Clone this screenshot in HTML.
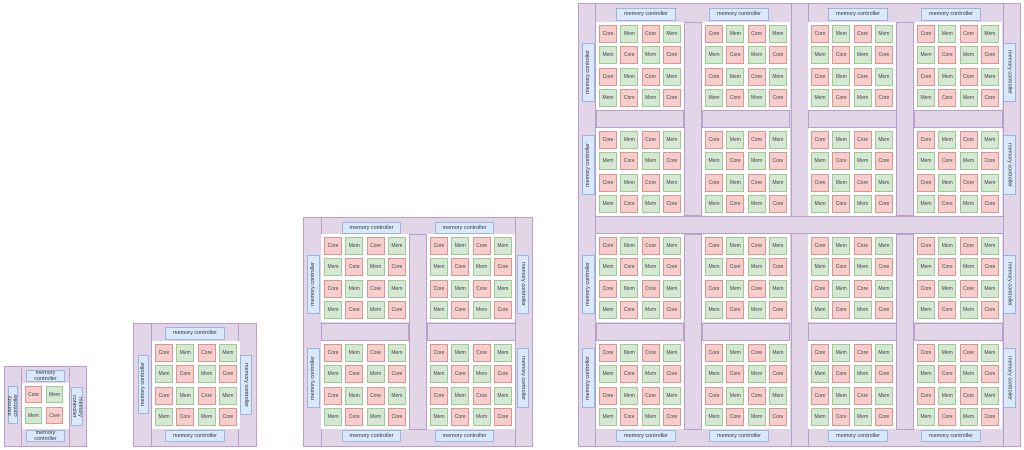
<!DOCTYPE html>
<html><head><meta charset="utf-8"><style>
body{margin:0;width:1024px;height:450px;background:#fff;position:relative;overflow:hidden;font-family:"Liberation Sans",sans-serif}
div{box-sizing:border-box}
.p{position:absolute;background:#e1d5e7;border:1px solid #b9a0c8}
.mc{position:absolute;background:#dae8fc;border:1px solid #9ab6de;font-size:5.5px;color:#333;display:flex;align-items:center;justify-content:center;text-align:center;line-height:1.1}
.l span{writing-mode:vertical-rl;transform:rotate(180deg)}
.r span{writing-mode:vertical-rl}
.w{position:absolute;background:#fff;display:grid;grid-template-columns:repeat(4,18px);grid-auto-rows:18px;gap:3.3px;padding:3px;width:88px;height:88px}
.w b,.w u{text-decoration:none;font-weight:normal;font-size:5px;color:#444;display:flex;align-items:center;justify-content:center;box-sizing:border-box}
.w b{background:#f8cecc;border:1px solid #d99592}
.w u{background:#d5e8d4;border:1px solid #a3c993}
.s{grid-template-columns:repeat(2,17px);grid-auto-rows:17px;gap:4px;width:47px;height:46px;padding:3px}
</style></head><body>

<!-- Diagram 1 -->
<div class="p" style="left:4px;top:366px;width:83px;height:81px"></div>
<div class="p" style="left:21px;top:366px;width:49px;height:81px"></div>
<div class="mc" style="left:26px;top:370px;width:39px;height:12px">memory<br>controller</div>
<div class="mc" style="left:26px;top:430px;width:39px;height:12px">memory<br>controller</div>
<div class="mc l" style="left:8px;top:386px;width:10px;height:38px"><span>memory<br>controller</span></div>
<div class="mc r" style="left:71px;top:387px;width:12px;height:39px"><span>memory<br>controller</span></div>
<div class="w s" style="left:22px;top:383px"><b>Core</b><u>Mem</u><u>Mem</u><b>Core</b></div>

<!-- Diagram 2 -->
<div class="p" style="left:133px;top:323px;width:124px;height:124px"></div>
<div class="p" style="left:151px;top:323px;width:88px;height:124px"></div>
<div class="mc" style="left:165px;top:327px;width:60px;height:13px">memory controller</div>
<div class="mc" style="left:165px;top:430px;width:60px;height:12px">memory controller</div>
<div class="mc l" style="left:138px;top:355px;width:11px;height:59px"><span>memory controller</span></div>
<div class="mc r" style="left:240px;top:355px;width:12px;height:60px"><span>memory controller</span></div>
<div class="w" style="left:152px;top:341px"><b>Core</b><u>Mem</u><b>Core</b><u>Mem</u><u>Mem</u><b>Core</b><u>Mem</u><b>Core</b><b>Core</b><u>Mem</u><b>Core</b><u>Mem</u><u>Mem</u><b>Core</b><u>Mem</u><b>Core</b></div>

<!-- Diagram 3 -->
<div class="p" style="left:303px;top:217px;width:230px;height:230px"></div>
<div class="p" style="left:321px;top:217px;width:195px;height:230px"></div>
<div class="p" style="left:321px;top:323px;width:88px;height:18px"></div>
<div class="p" style="left:427px;top:323px;width:89px;height:18px"></div>
<div class="p" style="left:409px;top:234px;width:18px;height:196px"></div>
<div class="mc" style="left:342px;top:222px;width:59px;height:12px">memory controller</div>
<div class="mc" style="left:435px;top:222px;width:59px;height:12px">memory controller</div>
<div class="mc" style="left:342px;top:430px;width:59px;height:12px">memory controller</div>
<div class="mc" style="left:435px;top:430px;width:59px;height:12px">memory controller</div>
<div class="mc l" style="left:307px;top:255px;width:13px;height:59px"><span>memory controller</span></div>
<div class="mc l" style="left:307px;top:348px;width:13px;height:60px"><span>memory controller</span></div>
<div class="mc r" style="left:517px;top:255px;width:12px;height:59px"><span>memory controller</span></div>
<div class="mc r" style="left:517px;top:348px;width:12px;height:60px"><span>memory controller</span></div>
<div class="w" style="left:321px;top:234px"><b>Core</b><u>Mem</u><b>Core</b><u>Mem</u><u>Mem</u><b>Core</b><u>Mem</u><b>Core</b><b>Core</b><u>Mem</u><b>Core</b><u>Mem</u><u>Mem</u><b>Core</b><u>Mem</u><b>Core</b></div>
<div class="w" style="left:427px;top:234px"><b>Core</b><u>Mem</u><b>Core</b><u>Mem</u><u>Mem</u><b>Core</b><u>Mem</u><b>Core</b><b>Core</b><u>Mem</u><b>Core</b><u>Mem</u><u>Mem</u><b>Core</b><u>Mem</u><b>Core</b></div>
<div class="w" style="left:321px;top:341px"><b>Core</b><u>Mem</u><b>Core</b><u>Mem</u><u>Mem</u><b>Core</b><u>Mem</u><b>Core</b><b>Core</b><u>Mem</u><b>Core</b><u>Mem</u><u>Mem</u><b>Core</b><u>Mem</u><b>Core</b></div>
<div class="w" style="left:427px;top:341px"><b>Core</b><u>Mem</u><b>Core</b><u>Mem</u><u>Mem</u><b>Core</b><u>Mem</u><b>Core</b><b>Core</b><u>Mem</u><b>Core</b><u>Mem</u><u>Mem</u><b>Core</b><u>Mem</u><b>Core</b></div>

<!-- Diagram 4 -->
<div class="p" style="left:578px;top:3px;width:443px;height:444px"></div>
<div class="p" style="left:595px;top:3px;width:409px;height:444px"></div>
<div class="p" style="left:791px;top:3px;width:18px;height:444px"></div>
<div class="p" style="left:595px;top:216px;width:409px;height:18px"></div>
<!-- unit strips -->
<div class="p" style="left:596px;top:110px;width:88px;height:18px"></div>
<div class="p" style="left:702px;top:110px;width:88px;height:18px"></div>
<div class="p" style="left:684px;top:22px;width:18px;height:194px"></div>
<div class="p" style="left:808px;top:110px;width:89px;height:18px"></div>
<div class="p" style="left:914px;top:110px;width:89px;height:18px"></div>
<div class="p" style="left:896px;top:22px;width:18px;height:194px"></div>
<div class="p" style="left:596px;top:323px;width:88px;height:18px"></div>
<div class="p" style="left:702px;top:323px;width:88px;height:18px"></div>
<div class="p" style="left:684px;top:234px;width:18px;height:196px"></div>
<div class="p" style="left:808px;top:323px;width:89px;height:18px"></div>
<div class="p" style="left:914px;top:323px;width:89px;height:18px"></div>
<div class="p" style="left:896px;top:234px;width:18px;height:196px"></div>
<!-- MCs -->
<div class="mc" style="left:616px;top:8px;width:60px;height:13px">memory controller</div>
<div class="mc" style="left:709px;top:8px;width:60px;height:13px">memory controller</div>
<div class="mc" style="left:828px;top:8px;width:60px;height:13px">memory controller</div>
<div class="mc" style="left:921px;top:8px;width:60px;height:13px">memory controller</div>
<div class="mc" style="left:616px;top:430px;width:60px;height:12px">memory controller</div>
<div class="mc" style="left:709px;top:430px;width:60px;height:12px">memory controller</div>
<div class="mc" style="left:828px;top:430px;width:60px;height:12px">memory controller</div>
<div class="mc" style="left:921px;top:430px;width:60px;height:12px">memory controller</div>
<div class="mc l" style="left:582px;top:43px;width:13px;height:59px"><span>memory controller</span></div>
<div class="mc l" style="left:582px;top:135px;width:13px;height:60px"><span>memory controller</span></div>
<div class="mc l" style="left:582px;top:255px;width:13px;height:59px"><span>memory controller</span></div>
<div class="mc l" style="left:582px;top:348px;width:13px;height:60px"><span>memory controller</span></div>
<div class="mc r" style="left:1003px;top:43px;width:13px;height:59px"><span>memory controller</span></div>
<div class="mc r" style="left:1003px;top:135px;width:13px;height:60px"><span>memory controller</span></div>
<div class="mc r" style="left:1003px;top:255px;width:13px;height:59px"><span>memory controller</span></div>
<div class="mc r" style="left:1003px;top:348px;width:13px;height:60px"><span>memory controller</span></div>
<!-- blocks -->
<div class="w" style="left:596px;top:22px"><b>Core</b><u>Mem</u><b>Core</b><u>Mem</u><u>Mem</u><b>Core</b><u>Mem</u><b>Core</b><b>Core</b><u>Mem</u><b>Core</b><u>Mem</u><u>Mem</u><b>Core</b><u>Mem</u><b>Core</b></div>
<div class="w" style="left:702px;top:22px"><b>Core</b><u>Mem</u><b>Core</b><u>Mem</u><u>Mem</u><b>Core</b><u>Mem</u><b>Core</b><b>Core</b><u>Mem</u><b>Core</b><u>Mem</u><u>Mem</u><b>Core</b><u>Mem</u><b>Core</b></div>
<div class="w" style="left:808px;top:22px"><b>Core</b><u>Mem</u><b>Core</b><u>Mem</u><u>Mem</u><b>Core</b><u>Mem</u><b>Core</b><b>Core</b><u>Mem</u><b>Core</b><u>Mem</u><u>Mem</u><b>Core</b><u>Mem</u><b>Core</b></div>
<div class="w" style="left:914px;top:22px"><b>Core</b><u>Mem</u><b>Core</b><u>Mem</u><u>Mem</u><b>Core</b><u>Mem</u><b>Core</b><b>Core</b><u>Mem</u><b>Core</b><u>Mem</u><u>Mem</u><b>Core</b><u>Mem</u><b>Core</b></div>
<div class="w" style="left:596px;top:128px"><b>Core</b><u>Mem</u><b>Core</b><u>Mem</u><u>Mem</u><b>Core</b><u>Mem</u><b>Core</b><b>Core</b><u>Mem</u><b>Core</b><u>Mem</u><u>Mem</u><b>Core</b><u>Mem</u><b>Core</b></div>
<div class="w" style="left:702px;top:128px"><b>Core</b><u>Mem</u><b>Core</b><u>Mem</u><u>Mem</u><b>Core</b><u>Mem</u><b>Core</b><b>Core</b><u>Mem</u><b>Core</b><u>Mem</u><u>Mem</u><b>Core</b><u>Mem</u><b>Core</b></div>
<div class="w" style="left:808px;top:128px"><b>Core</b><u>Mem</u><b>Core</b><u>Mem</u><u>Mem</u><b>Core</b><u>Mem</u><b>Core</b><b>Core</b><u>Mem</u><b>Core</b><u>Mem</u><u>Mem</u><b>Core</b><u>Mem</u><b>Core</b></div>
<div class="w" style="left:914px;top:128px"><b>Core</b><u>Mem</u><b>Core</b><u>Mem</u><u>Mem</u><b>Core</b><u>Mem</u><b>Core</b><b>Core</b><u>Mem</u><b>Core</b><u>Mem</u><u>Mem</u><b>Core</b><u>Mem</u><b>Core</b></div>
<div class="w" style="left:596px;top:234px"><b>Core</b><u>Mem</u><b>Core</b><u>Mem</u><u>Mem</u><b>Core</b><u>Mem</u><b>Core</b><b>Core</b><u>Mem</u><b>Core</b><u>Mem</u><u>Mem</u><b>Core</b><u>Mem</u><b>Core</b></div>
<div class="w" style="left:702px;top:234px"><b>Core</b><u>Mem</u><b>Core</b><u>Mem</u><u>Mem</u><b>Core</b><u>Mem</u><b>Core</b><b>Core</b><u>Mem</u><b>Core</b><u>Mem</u><u>Mem</u><b>Core</b><u>Mem</u><b>Core</b></div>
<div class="w" style="left:808px;top:234px"><b>Core</b><u>Mem</u><b>Core</b><u>Mem</u><u>Mem</u><b>Core</b><u>Mem</u><b>Core</b><b>Core</b><u>Mem</u><b>Core</b><u>Mem</u><u>Mem</u><b>Core</b><u>Mem</u><b>Core</b></div>
<div class="w" style="left:914px;top:234px"><b>Core</b><u>Mem</u><b>Core</b><u>Mem</u><u>Mem</u><b>Core</b><u>Mem</u><b>Core</b><b>Core</b><u>Mem</u><b>Core</b><u>Mem</u><u>Mem</u><b>Core</b><u>Mem</u><b>Core</b></div>
<div class="w" style="left:596px;top:341px"><b>Core</b><u>Mem</u><b>Core</b><u>Mem</u><u>Mem</u><b>Core</b><u>Mem</u><b>Core</b><b>Core</b><u>Mem</u><b>Core</b><u>Mem</u><u>Mem</u><b>Core</b><u>Mem</u><b>Core</b></div>
<div class="w" style="left:702px;top:341px"><b>Core</b><u>Mem</u><b>Core</b><u>Mem</u><u>Mem</u><b>Core</b><u>Mem</u><b>Core</b><b>Core</b><u>Mem</u><b>Core</b><u>Mem</u><u>Mem</u><b>Core</b><u>Mem</u><b>Core</b></div>
<div class="w" style="left:808px;top:341px"><b>Core</b><u>Mem</u><b>Core</b><u>Mem</u><u>Mem</u><b>Core</b><u>Mem</u><b>Core</b><b>Core</b><u>Mem</u><b>Core</b><u>Mem</u><u>Mem</u><b>Core</b><u>Mem</u><b>Core</b></div>
<div class="w" style="left:914px;top:341px"><b>Core</b><u>Mem</u><b>Core</b><u>Mem</u><u>Mem</u><b>Core</b><u>Mem</u><b>Core</b><b>Core</b><u>Mem</u><b>Core</b><u>Mem</u><u>Mem</u><b>Core</b><u>Mem</u><b>Core</b></div>

</body></html>
